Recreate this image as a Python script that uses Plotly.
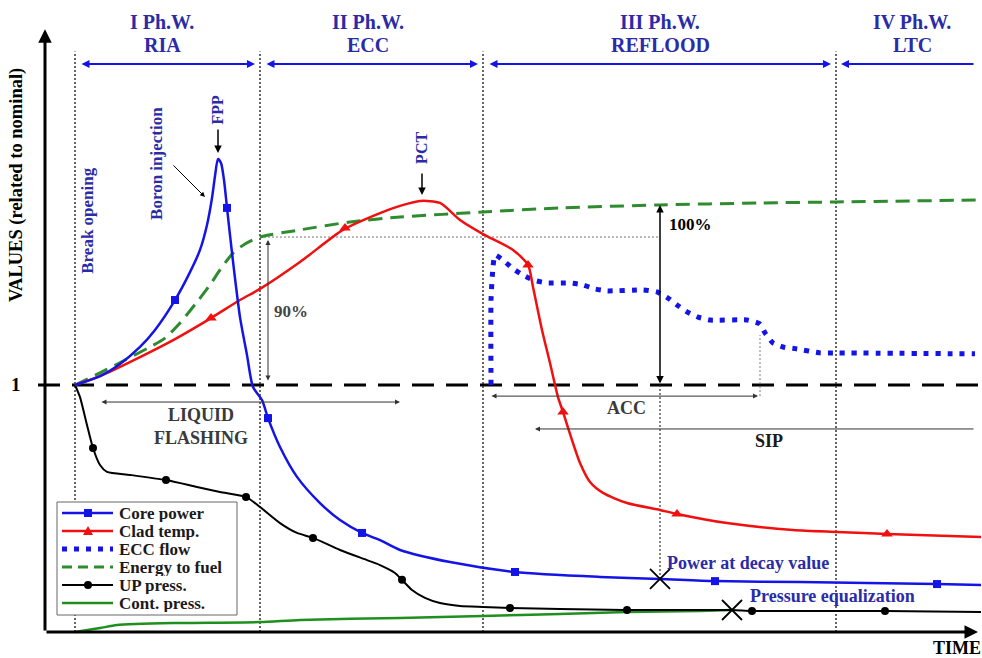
import plotly.graph_objects as go

# ---------------------------------------------------------------
# LOCA phenomenology sketch: values related to nominal vs. time
# time in arbitrary units (break opening at t = 0), nominal = 1
# ---------------------------------------------------------------

# Core power
t_power = [0, 2.5, 4.5, 6.5, 8, 10, 11.5, 12.5, 13.2, 13.7, 14, 14.3, 14.6, 14.9, 15.2,
           15.5, 15.9, 16.5, 17.2, 17.8, 18.7, 19.3, 20.5, 22.2, 24.5, 26.5, 28.7, 30.5,
           32.5, 37.5, 44, 52.5, 58.5, 64, 72.5, 86.2, 90.6]
v_power = [1.000, 1.036, 1.085, 1.154, 1.223, 1.344, 1.457, 1.547, 1.648, 1.757, 1.846,
           1.915, 1.899, 1.830, 1.717, 1.607, 1.466, 1.275, 1.121, 0.992, 0.939, 0.866,
           0.749, 0.628, 0.522, 0.453, 0.401, 0.372, 0.332, 0.283, 0.243, 0.223, 0.215,
           0.206, 0.202, 0.194, 0.190]
t_power_mk = [10, 15.2, 19.3, 28.7, 44, 64, 86.2]
v_power_mk = [1.344, 1.717, 0.866, 0.401, 0.243, 0.206, 0.194]

# Clad temperature
t_clad = [0, 2.5, 6.5, 10, 13.6, 16.5, 18.5, 22.5, 26.8, 30.5, 32.5, 34.5, 36.5, 38.5,
          40.8, 43.8, 45.3, 45.8, 46.7, 47.5, 48.3, 48.8, 49.7, 50.5, 51.5, 52.8, 55.2,
          58.5, 60.2, 65.2, 71.8, 76.2, 81.2, 90.6]
v_clad = [1.000, 1.036, 1.113, 1.186, 1.271, 1.344, 1.389, 1.498, 1.628, 1.696, 1.725,
          1.745, 1.737, 1.668, 1.611, 1.547, 1.486, 1.397, 1.223, 1.089, 0.951, 0.891,
          0.777, 0.684, 0.607, 0.563, 0.522, 0.494, 0.478, 0.441, 0.413, 0.405, 0.397,
          0.385]
t_clad_mk = [13.6, 27.0, 45.3, 48.8, 60.2, 81.2]
v_clad_mk = [1.271, 1.636, 1.486, 0.891, 0.478, 0.397]

# ECC flow
t_ecc = [41.6, 41.6, 41.8, 42.0, 42.8, 43.7, 44.8, 45.8, 47.2, 49.5, 50.8, 52.0, 53.2,
         56.8, 58.2, 59.3, 60.2, 61.2, 62.3, 63.5, 67.2, 68.5, 69.0, 69.8, 70.8, 72.2,
         74.5, 75.8, 90.0]
v_ecc = [1.000, 1.344, 1.478, 1.526, 1.506, 1.474, 1.445, 1.425, 1.413, 1.413, 1.405,
         1.389, 1.381, 1.385, 1.377, 1.352, 1.324, 1.296, 1.275, 1.263, 1.263, 1.247,
         1.211, 1.170, 1.154, 1.146, 1.130, 1.130, 1.126]

# Energy to fuel
t_energy = [0, 2.5, 5.0, 7.5, 9.0, 10.5, 12.2, 13.5, 14.5, 15.8, 17, 18.5, 22.5, 27.5,
            32.5, 40.8, 48.5, 58.5, 68.5, 76.1, 90.6]
v_energy = [1.000, 1.049, 1.101, 1.154, 1.190, 1.251, 1.336, 1.405, 1.466, 1.534, 1.571,
            1.599, 1.628, 1.660, 1.680, 1.700, 1.717, 1.729, 1.737, 1.741, 1.749]

# Upper plenum pressure
t_up = [0, 0.5, 1.2, 1.8, 2.5, 3.2, 5.5, 9.1, 12.2, 14.5, 17.1, 18.5, 20.5, 22.2, 23.8,
        26.5, 29.2, 30.5, 32, 32.7, 33.7, 35, 36.5, 38.5, 40.8, 43.5, 48.5, 55, 60.5,
        65.7, 67.7, 74.5, 81, 90.6]
v_up = [1.000, 0.951, 0.838, 0.745, 0.676, 0.648, 0.636, 0.615, 0.587, 0.567, 0.547,
        0.506, 0.441, 0.401, 0.381, 0.332, 0.291, 0.271, 0.239, 0.211, 0.170, 0.138,
        0.117, 0.105, 0.101, 0.097, 0.093, 0.089, 0.089, 0.089, 0.085, 0.085, 0.085,
        0.081]
t_up_mk = [1.8, 9.1, 17.1, 23.8, 32.7, 43.5, 55.2, 67.7, 81]
v_up_mk = [0.745, 0.615, 0.547, 0.381, 0.211, 0.097, 0.089, 0.085, 0.085]

# Containment pressure
t_cont = [0, 2.5, 4.2, 9.8, 18.5, 22.5, 32.5, 40.8, 48.5, 55.2, 62.5, 65.7]
v_cont = [0.000, 0.016, 0.028, 0.036, 0.040, 0.049, 0.057, 0.065, 0.073, 0.081, 0.085,
          0.089]

# Event points: power at decay value, pressure equalization
t_events = [58.5, 65.7]
v_events = [0.215, 0.089]

# Phase windows
phase_bounds = [0, 18.5, 40.8, 76.1]
phase_numbers = ["I Ph.W.", "II Ph.W.", "III Ph.W.", "IV Ph.W."]
phase_names = ["RIA", "ECC", "REFLOOD", "LTC"]
phase_label_t = [8.7, 29.3, 58.5, 83.7]

# Legend labels
series_names = ["Core power", "Clad temp.", "ECC flow", "Energy to fuel", "UP press.",
                "Cont. press."]

BLUE = "#1414e6"
RED = "#f01010"
GREEN_D = "#2e8b2e"
GREEN = "#1f8f1f"
NAVY = "#2b2ba8"
GREY = "#3a3a3a"
SERIF = "Liberation Serif"
W, H = 982, 658

fig = go.Figure()

# curves
fig.add_trace(go.Scatter(x=t_cont, y=v_cont, mode="lines", name=series_names[5],
                         line=dict(color=GREEN, width=2.5, shape="spline", smoothing=0.6)))
fig.add_trace(go.Scatter(x=t_up, y=v_up, mode="lines", name=series_names[4],
                         line=dict(color="black", width=2, shape="spline", smoothing=0.6)))
fig.add_trace(go.Scatter(x=t_energy, y=v_energy, mode="lines", name=series_names[3],
                         line=dict(color=GREEN_D, width=3, dash="14px,8px",
                                   shape="spline", smoothing=0.7)))
fig.add_trace(go.Scatter(x=t_ecc, y=v_ecc, mode="lines", name=series_names[2],
                         line=dict(color=BLUE, width=5, dash="5px,7px",
                                   shape="spline", smoothing=0.5)))
fig.add_trace(go.Scatter(x=t_clad, y=v_clad, mode="lines", name=series_names[1],
                         line=dict(color=RED, width=2.5, shape="spline", smoothing=0.7)))
fig.add_trace(go.Scatter(x=t_power, y=v_power, mode="lines", name=series_names[0],
                         line=dict(color=BLUE, width=2.5, shape="spline", smoothing=0.7)))

# markers on the curves
fig.add_trace(go.Scatter(x=t_power_mk, y=v_power_mk, mode="markers",
                         marker=dict(symbol="square", size=8, color=BLUE)))
fig.add_trace(go.Scatter(x=t_clad_mk, y=v_clad_mk, mode="markers",
                         marker=dict(symbol="triangle-up", size=10, color=RED)))
fig.add_trace(go.Scatter(x=t_up_mk, y=v_up_mk, mode="markers",
                         marker=dict(symbol="circle", size=8, color="black")))
fig.add_trace(go.Scatter(x=t_events, y=v_events, mode="markers",
                         marker=dict(symbol="x-thin", size=20,
                                     line=dict(color="black", width=1.8))))

shapes = []
annotations = []


def arrow(x0, y0, x1, y1, color="black", width=1, both=False, head=2, size=1.0):
    """Arrow from (x0, y0) to (x1, y1) in data coordinates."""
    annotations.append(dict(
        x=x1, y=y1, ax=x0, ay=y0, xref="x", yref="y", axref="x", ayref="y",
        text="", showarrow=True, arrowhead=head, arrowsize=size, arrowwidth=width,
        arrowcolor=color, arrowside="end+start" if both else "end",
        standoff=0, startstandoff=0))


def label(x, y, text, size=18, color="black", angle=0, xanchor="center"):
    annotations.append(dict(
        x=x, y=y, xref="x", yref="y", text=text, showarrow=False, textangle=angle,
        xanchor=xanchor, font=dict(family=SERIF, size=size, color=color, weight="bold")))


# axes drawn as arrows
arrow(-3.0, 0, -3.0, 2.44, width=3, head=2, size=0.9)
arrow(-3.0, 0, 90.3, 0, width=3, head=2, size=0.9)

# nominal level
shapes.append(dict(type="line", x0=-3.7, x1=90.6, y0=1, y1=1, layer="below",
                   line=dict(color="black", width=3, dash="22px,12px")))
label(-5.9, 1.0, "1", size=19)

# phase window boundaries, arrows and titles
for tb in phase_bounds:
    shapes.append(dict(type="line", x0=tb, x1=tb, y0=0, y1=2.35, layer="below",
                       line=dict(color="#333333", width=1.5, dash="2px,2px")))
for i in range(3):
    arrow(phase_bounds[i] + 0.5, 2.30, phase_bounds[i + 1] - 0.5, 2.30,
          color=BLUE, width=2, both=True, head=2, size=0.8)
arrow(90.0, 2.30, phase_bounds[3] + 0.5, 2.30, color=BLUE, width=2, head=2, size=0.8)
for tl, num, nm in zip(phase_label_t, phase_numbers, phase_names):
    label(tl, 2.470, num, size=20, color=NAVY)
    label(tl, 2.377, nm, size=20, color=NAVY)

# axis titles
label(-5.8, 1.81, "VALUES (related to nominal)", size=18.5, angle=-90)
label(88.2, -0.065, "TIME", size=18)

# event labels
label(1.3, 1.665, "Break opening", size=17, color=NAVY, angle=-90)
label(8.2, 1.895, "Boron injection", size=17, color=NAVY, angle=-90)
arrow(9.7, 1.895, 13.0, 1.761, width=1, head=2, size=1)
label(14.3, 2.115, "FPP", size=16, color=NAVY, angle=-90)
arrow(14.3, 2.040, 14.3, 1.939, width=1.5, head=2, size=1)
label(34.7, 1.960, "PCT", size=16, color=NAVY, angle=-90)
arrow(34.7, 1.862, 34.7, 1.769, width=1.5, head=2, size=1)

# 90 % of energy to fuel
shapes.append(dict(type="line", x0=18.5, x1=58.5, y0=1.599, y1=1.599, layer="below",
                   line=dict(color="#777777", width=1, dash="2px,2px")))
arrow(19.3, 1.012, 19.3, 1.587, color="#333333", width=1, both=True, head=2, size=1)
label(21.6, 1.296, "90%", size=17, color="#444444")

# 100 % of energy to fuel
arrow(58.5, 1.0, 58.5, 1.729, color="black", width=1.5, both=True, head=2, size=1)
label(61.5, 1.648, "100%", size=17)
shapes.append(dict(type="line", x0=58.5, x1=58.5, y0=0.215, y1=1.0, layer="below",
                   line=dict(color="#333333", width=1.2, dash="2px,2px")))
shapes.append(dict(type="line", x0=68.5, x1=68.5, y0=0.955, y1=1.202, layer="below",
                   line=dict(color="#777777", width=1, dash="2px,2px")))

# liquid flashing, accumulators, safety injection pumps
arrow(2.5, 0.931, 32.5, 0.931, color="#333333", width=1, both=True, head=2, size=1)
label(12.6, 0.834, "LIQUID<br>FLASHING", size=18, color=GREY)
arrow(41.5, 0.955, 68.3, 0.955, color="#333333", width=1, both=True, head=2, size=1)
label(55.1, 0.907, "ACC", size=18, color=GREY)
arrow(90.0, 0.822, 46.0, 0.822, color="#333333", width=1, head=2, size=1)
label(69.4, 0.773, "SIP", size=18, color="#1a1a1a")

label(67.3, 0.279, "Power at decay value", size=18, color=NAVY)
label(75.7, 0.146, "Pressure equalization", size=18, color=NAVY)


# ---- legend box (layout pixels -> paper coordinates) ----
def px(x):
    return x / W


def py(y):
    return 1 - y / H


box = dict(x0=57, x1=237, y0=502, y1=615)
row_y = [513, 531, 549, 567, 585, 603]
s0, s1, smid, text_x = 62, 113, 88, 118

shapes.append(dict(type="rect", xref="paper", yref="paper",
                   x0=px(box["x0"]), x1=px(box["x1"]), y0=py(box["y1"]), y1=py(box["y0"]),
                   line=dict(color="#666666", width=1), fillcolor="white", layer="above"))

sample_lines = [
    dict(color=BLUE, width=2.5),
    dict(color=RED, width=2.5),
    dict(color=BLUE, width=5, dash="5px,7px"),
    dict(color=GREEN_D, width=3, dash="10px,6px"),
    dict(color="black", width=2),
    dict(color=GREEN, width=2.5),
]
for ry, ln, nm in zip(row_y, sample_lines, series_names):
    shapes.append(dict(type="line", xref="paper", yref="paper", layer="above",
                       x0=px(s0), x1=px(s1), y0=py(ry), y1=py(ry), line=ln))
    annotations.append(dict(xref="paper", yref="paper", x=px(text_x), y=py(ry),
                            xanchor="left", yanchor="middle", showarrow=False, text=nm,
                            height=17, borderpad=0,
                            font=dict(family=SERIF, size=17, color="#1a1a1a",
                                      weight="bold")))

# legend sample markers
shapes.append(dict(type="rect", xref="paper", yref="paper", layer="above",
                   x0=px(smid - 4), x1=px(smid + 4), y0=py(row_y[0] + 4),
                   y1=py(row_y[0] - 4), fillcolor=BLUE, line=dict(width=0)))
tri = "M {} {} L {} {} L {} {} Z".format(px(smid - 5), py(row_y[1] + 4),
                                        px(smid + 5), py(row_y[1] + 4),
                                        px(smid), py(row_y[1] - 5))
shapes.append(dict(type="path", xref="paper", yref="paper", layer="above", path=tri,
                   fillcolor=RED, line=dict(width=0)))
shapes.append(dict(type="circle", xref="paper", yref="paper", layer="above",
                   x0=px(smid - 4), x1=px(smid + 4), y0=py(row_y[4] + 4),
                   y1=py(row_y[4] - 4), fillcolor="black", line=dict(width=0)))

fig.update_layout(
    width=W, height=H,
    margin=dict(l=0, r=0, t=0, b=0),
    paper_bgcolor="white", plot_bgcolor="white",
    xaxis=dict(range=[-7.5, 90.7], visible=False, fixedrange=True),
    yaxis=dict(range=[-0.1053, 2.5587], visible=False, fixedrange=True),
    shapes=shapes,
    annotations=annotations,
    showlegend=False,
)

fig.write_html("out.html")
